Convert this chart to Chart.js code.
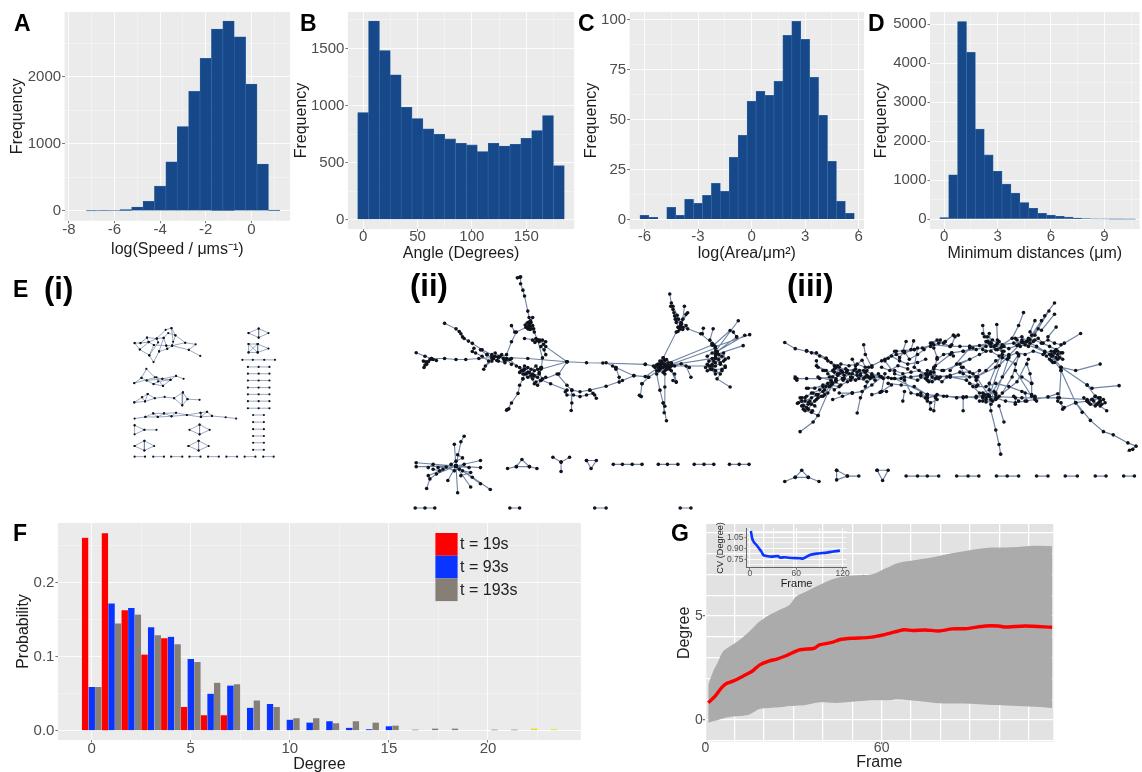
<!DOCTYPE html>
<html><head><meta charset="utf-8">
<script src="https://cdn.jsdelivr.net/npm/chart.js@4"></script>
<style>
html,body{margin:0;padding:0;background:#fff;width:1142px;height:772px;overflow:hidden}
#fig{position:relative;width:1142px;height:772px;overflow:hidden}
canvas{position:absolute;filter:blur(0.45px)}
.lab{position:absolute;font-family:"Liberation Sans",Arial,sans-serif;font-weight:700;color:#000;line-height:1;white-space:nowrap}
</style></head><body><div id="fig"></div>
<script>
// ---------- Panel A ----------
const speedBins=[-7,-6.5,-6,-5.5,-5,-4.5,-4,-3.5,-3,-2.5,-2,-1.5,-1,-0.5,0,0.5,1];
const speedCounts=[2,4,8,20,60,145,370,735,1260,1785,2280,2715,2835,2600,1895,700,15];
// ---------- Panel B ----------
const angleBins=[0,10,20,30,40,50,60,70,80,90,100,110,120,130,140,150,160,170,180];
const angleCounts=[939,1740,1482,1269,985,886,795,748,708,670,655,597,670,646,661,713,781,912,474];
// ---------- Panel C ----------
const areaBins=[-6,-5.5,-5,-4.5,-4,-3.5,-3,-2.5,-2,-1.5,-1,-0.5,0,0.5,1,1.5,2,2.5,3,3.5,4,4.5,5,5.5];
const areaCounts=[2,1,0,6,2,10,8,12,18,14,31,42,59,64,62,69,92,99,90,71,52,29,9,3];
// ---------- Panel D ----------
const distBins=[0,0.5,1,1.5,2,2.5,3,3.5,4,4.5,5,5.5,6,6.5,7,7.5,8,8.5,9,9.5,10,10.5];
const distCounts=[45,1140,5070,4280,2310,1650,1230,900,670,430,280,150,105,75,55,30,15,10,8,4,3,2];
// ---------- Panel F ----------
const degrees=[0,1,2,3,4,5,6,7,8,9,10,11,12,13,14,15,16,17,18,19,20,21,22,23];
const probT19=[0.261,0.267,0.163,0.103,0.125,0.032,0.021,0.021];
const probT93=[0.059,0.172,0.166,0.140,0.127,0.097,0.050,0.061,0.031,0.036,0.015,0.011,0.013,0.004,0.002,0.006];
const probT193=[0.059,0.145,0.157,0.129,0.117,0.093,0.065,0.063,0.041,0.032,0.017,0.017,0.010,0.013,0.011,0.007,0.0015,0.003,0.003,null,0.0015,0.0015,0.003,0.002];
const legendLabels=['t = 19s','t = 93s','t = 193s'];
// ---------- Panel G ----------
const bandFrames=[1,2.6,4.3,6,7.7,11.6,15,18.4,21.8,25.2,28.6,30.8,34.2,38.8,44.4,50,56.8,61.4,65.9,72.7,78.3,84,91.9,97.5,104.3,112.2,118];
const bandUpper=[1.68,2.32,2.80,3.29,3.48,3.85,4.25,4.73,5.05,5.29,5.53,5.93,6.17,6.49,6.81,6.94,7.0,7.29,7.56,7.72,7.85,8.01,8.21,8.29,8.30,8.37,8.35];
const bandLower=[-0.13,-0.06,0,0.08,0.14,0.19,0.27,0.53,0.58,0.61,0.67,0.69,0.72,0.85,0.82,0.88,0.95,0.95,0.99,0.91,0.82,0.79,0.77,0.72,0.69,0.64,0.58];
const meanFrames=[1,3.2,5.5,7.2,9.4,12.8,16.2,18.4,21.8,24.1,27.5,32,37.1,38.8,43.4,45.6,50,55.7,61.4,67.6,70.4,74.9,79.4,84,88.5,95.3,99.8,102,108.8,118];
const meanDegree=[0.83,1.12,1.55,1.76,1.87,2.11,2.37,2.64,2.84,2.92,3.09,3.37,3.45,3.61,3.74,3.86,3.93,3.97,4.12,4.34,4.30,4.33,4.28,4.38,4.39,4.52,4.52,4.47,4.52,4.46];
const cvFrames=[1.3,3,5.6,8.6,11.6,15,17.2,21.6,28,36.6,38.8,45.3,53.9,64.7,69,77.6,86.2,99,107.8,116.4];
const cvDegree=[1.136,1.036,0.977,0.945,0.9,0.855,0.809,0.795,0.786,0.795,0.773,0.777,0.768,0.764,0.759,0.809,0.827,0.841,0.855,0.868];
// ---------- Panel E: network layouts, each list is a chain of connected nodes x,y,x,y... ----------
const netI=[
[400,214,418,214,438,197,468,200,495,173,513,168,525,190,555,213,587,218,566,235,601,254],
[400,214,416,234,445,252,458,273,475,240,500,232,515,222,555,213],
[418,214,443,211,468,200,489,198,497,222,500,232],
[416,234,443,211,459,220,445,252],[438,197,443,211],
[459,220,497,222,515,222,525,190,503,183,489,198,475,240],[515,222,566,235],[513,168,518,210],[468,200,472,212,445,252],
[399,338,421,322,436,294,462,320,485,325,510,328,527,316,550,325],
[421,322,437,330,458,341,487,347,510,328],[399,338,467,320,487,347],[437,330,485,325,527,316],[458,341,472,333,510,328],
[399,398,423,382,440,372,462,385,492,381,521,385,548,367,562,388,599,390],
[399,398,432,395,440,372],[423,382,432,395,462,385],[521,385,546,407,562,388],[548,367,546,407],
[400,448,433,443,457,432,471,443,490,432,513,441,527,430,560,437,602,430,622,427,637,440,679,444,711,448],
[433,443,471,443,513,441,560,437,603,443,637,440],[457,432,490,432,527,430],[602,430,603,443,622,427],
[400,469,430,483,400,497,400,469],[430,483,467,483],
[599,467,568,483,599,497,630,483,599,467,599,497],
[400,533,430,517,460,533,430,547,400,533],[430,517,430,547],
[565,533,596,517,627,533,596,547,565,533],[596,517,596,547],
[400,566,432,566],[457,566,490,566],[512,566,546,566],[568,566,602,566],[625,566,658,566],[681,566,714,566],[737,566,770,566],[794,566,826,566],
[749,183,780,169,810,183,780,197,749,183],[780,169,780,197],
[749,217,777,217,777,243,749,243,749,217,777,243],[777,217,749,243],[777,217,810,231,777,243],
[730,266,762,266,797,266,830,266],
[747,288,780,288,813,288],[747,309,780,309,813,309],[747,330,780,330,813,330],[747,352,780,352,813,352],[747,373,780,373,813,373],[747,394,780,394,813,394],[747,416,780,416,813,416],
[763,437,796,437],[763,459,796,459],[763,481,796,481],[763,502,796,502],[763,523,796,523],[763,545,796,545]
];
const netII=[
[378,12,385,10,388,9,388,30,395,50,400,68,410,115,414,135,420,150,415,160],
[405,165,415,160,425,160],[410,170,415,160,420,170],[412,150,415,160,418,145],[425,135,415,160],[402,158,415,160,428,170],[408,152,416,172],
[415,160,430,180,440,205],[425,205,435,200,445,210,455,205,465,210,450,225,460,235,465,250],[432,212,447,205,458,218],
[155,153,190,170,205,185,215,200,240,215,270,235,300,250,320,258],[200,178,210,195,228,208],
[245,230,240,240,250,245,270,255,290,270,275,295],[280,285,300,270,310,255],[265,235,285,250,305,262],
[68,244,95,255,115,262,155,262,190,265,220,265,260,262,320,258],
[92,290,100,280,90,270,105,272,120,265,130,268],[95,282,115,262],[110,265,98,272],
[320,258,410,262,530,272,590,275,640,276,770,280],[300,255,320,258,345,250,360,210,375,180,405,165],[360,160,370,180],[400,200,440,205],
[320,258,335,262,355,265,375,285,400,295],[345,265,360,280],[385,290,395,300,410,290,420,295,430,300,440,295,450,290],
[400,295,405,310,420,315,430,340,440,345,450,330,465,320],[390,300,410,305,425,310,440,320],[395,325,385,345,380,370,360,400,348,420,345,422,352,418],[400,310,395,325],
[450,295,530,272],[440,205,455,260,452,290],[465,225,530,272],
[450,330,500,310,530,345,545,360,570,365,600,360,650,348,700,330,735,315],[530,272,505,310],[420,315,480,340,530,360],
[525,365,530,375,550,375,570,380,590,375,610,370,620,385],[545,360,545,400,543,423],[600,360,615,375],
[650,275,680,290,690,320,690,335],[670,285,680,295],[680,290,735,315,770,318,810,290],[770,280,820,290],
[800,290,810,280,820,270,840,275,850,285,830,300,815,295,830,285],[825,260,830,285,860,310,865,335,855,330],[805,282,825,278,845,290],[820,288,835,295,812,300],[830,268,838,288,818,280],
[780,320,810,300],[760,340,780,320],[760,340,755,378,752,376,758,380],
[805,310,815,360,825,400,835,455],[825,400,828,430],[830,310,830,350,830,410],[850,300,865,335],
[825,260,865,180,875,170],[845,62,850,90,855,110,860,130,865,150,875,170],[890,100,885,140,880,155,875,170],[895,125,870,165],[900,120,880,155],[855,100,868,128,878,160],[862,140,885,165,900,170,940,185,975,215],
[948,168,945,185],[978,170,968,205],
[975,220,990,245,1005,255,985,260,970,285,960,300,985,300,1000,310,990,325,1030,350],[1010,270,1025,260,985,260,965,270,980,270,985,260],[975,280,985,300],[1000,280,985,260,1015,290],[1005,295,975,295,960,280],
[985,240,1055,145],[980,220,1030,175],[985,225,1090,188],[985,250,1070,222],[990,240,1050,195],[990,240,1075,190],[1040,180,1050,195],
[830,285,985,260],[830,285,975,285],[850,280,985,230],[830,280,975,220],[895,285,910,320],
[285,250,300,262,315,268,330,250,345,262,360,262,340,275,320,270],[310,245,325,255,338,268],
[385,305,400,285,415,305,435,285,445,305,425,325,410,320,395,310],[430,315,445,310,455,325,435,335],
[795,285,815,270,835,265,850,275,845,295,825,305,805,300],[815,285,825,290,840,283,820,275],[860,285,880,278,905,290],
[960,255,975,245,995,250,1010,245,1015,265,1000,275,985,285,970,295,985,310,1005,300,1015,285],[965,285,985,275,995,265,975,262,955,290],
[865,140,880,150,895,160,885,172,870,178],[848,100,858,120,872,140],
[190,595,68,585],[190,595,68,597],[105,600,120,590,190,595],[190,595,150,605,110,635,100,665],[190,595,130,620],[190,595,165,640],[190,595,195,678],[190,595,235,660],[190,595,295,668],[190,595,265,650],[190,595,240,630],[190,595,265,600],[190,595,265,578],[190,595,230,600],[215,503,205,520,190,595],[185,528,190,595],[195,560,210,570,190,580,175,590,200,605,215,590,185,610,160,598,135,600],[120,605,140,610,105,625],[210,610,235,615,205,625],
[348,603,375,597,392,575,415,597,438,603],[375,597,415,597],
[487,568,512,583,538,568],[512,583,512,612],
[590,578,620,578,604,603,590,578],
[672,590,700,590,730,590,760,590],[810,590,838,590,870,590],[920,590,950,590,980,590],[1028,590,1058,590,1088,590],
[65,725,95,725,125,725],[355,725,385,725],[615,725,650,725],[877,725,910,725]
];
const netIII=[
[33,213,65,232,100,240,130,245,160,262,190,290,210,305],
[210,305,280,320,370,325,470,315,540,320,620,320,690,285,760,212],
[290,290,340,265,375,240,430,235,490,220,540,225,600,225,680,222,760,212,850,250],
[470,375,520,380,580,382,660,380,760,385,870,385,960,390],[370,325,470,375],
[80,490,120,460,135,440,165,370,190,330],
[75,400,85,385,90,410,105,420,115,405,130,390,150,380,170,350],
[65,325,100,325,140,325,180,320],[100,355,150,350,190,330],[130,285,160,300],
[255,432,265,385,280,350,300,320],[275,220,280,250,300,290],[405,210,395,240],[428,208,420,235],
[540,250,490,290,470,315],[600,230,540,300],
[860,90,830,130,800,190,775,210],[765,120,750,160,730,200,700,220],[843,115,810,170,780,205],[860,125,820,175],[800,145,785,180],[820,145,790,190],[865,165,840,195],[940,185,890,215,860,240],[640,160,645,195,680,222],[683,157,685,205],[660,185,665,215],
[850,250,880,290,925,300,1000,280],[880,290,960,345,975,355,1058,347],[850,255,880,300,875,385],[960,345,985,380,960,395],
[950,385,965,400,985,380,1000,395,1010,390,1015,400,1000,410,1020,425],[975,390,990,405,1000,395],[960,395,975,390,1000,385],
[925,400,970,455,1010,490,1040,500,1085,525,1110,535,1090,548,1100,545],[880,300,925,400,960,395],[870,395,890,415,925,400,945,430],
[660,380,665,425,680,485,690,530,695,560],[690,410,705,460],[660,380,620,320,580,290],[660,380,700,260],[660,380,750,250],[740,300,790,380],[790,340,760,320],
[470,375,480,420],[495,385,490,425],[580,385,580,425],[395,395,400,365],[330,365,340,310],[740,385,740,405],[800,385,805,395],[880,400,885,420],
[180,300,200,290,225,300,250,295,275,300,300,310,325,318,350,322],[170,320,195,310,215,315,240,310,265,315,290,320,310,330],[190,335,210,325,235,330,260,325,285,335],[205,280,230,285,255,280,280,290],[240,265,250,285,270,268,285,300],[150,300,185,305,220,295,255,305],[135,320,175,330,205,345,225,335],
[80,385,100,380,120,370,140,360,160,350,180,340],[72,402,95,395,115,385,135,375,155,360],[85,410,105,405,125,395,145,380],[95,425,115,430,135,440],[105,355,125,355,150,345,175,335],[70,325,65,320,70,330],[130,270,135,290,155,300],[100,238,115,245,140,255,165,270,185,285],[160,262,175,275,195,285],
[300,285,330,270,350,262,375,250,400,245,430,235,455,230,480,225,505,215,525,210],[370,240,385,260,400,240,415,265,440,250,460,235,485,215,510,205],[525,210,550,190,565,190],[545,220,555,195],[490,230,500,260,495,285,480,305],[480,215,500,205,520,215,540,225,570,225,600,225,630,222,660,215],[550,255,545,245],[500,265,520,250,545,245,580,240,610,230],[440,230,430,290,470,320],[340,270,370,310,400,320,440,330,470,315],
[300,315,330,320,360,325,390,325,420,320,450,315,480,310,510,320,540,315,570,305,600,305,625,320],[470,300,490,305,500,320,470,330,450,320],[465,325,485,335,505,325],[540,320,590,330,610,350,630,370],[600,340,625,345,610,310,630,300,620,330],[575,290,580,310,600,320],[350,340,390,345,430,350,470,375],[400,330,420,370,440,375,470,385,495,380],[450,378,470,395],[465,385,480,400,500,390],[330,365,345,365],[300,375,325,368,360,345],[240,370,270,365,300,345,330,320],[200,370,240,370],[180,390,210,380,240,370],
[640,185,655,195,670,205,685,215,700,225,720,232,745,222,765,212,785,215,805,225,830,240,855,255],[650,210,665,225,685,235,705,240],[740,200,760,195,775,210,755,225,735,215],[780,200,800,205,820,215,840,205,860,215,880,220],[810,200,825,215,845,225,865,235,880,245],[830,245,850,240,865,260,850,270,835,255],[870,250,885,245],[855,275,870,265],[700,250,720,255,745,245,770,250,795,240,825,250],[640,235,665,240,690,255,715,265,740,280],[580,240,620,235,650,225],[700,240,680,290,660,340,660,380],[720,260,700,320,680,370],[750,255,730,320,700,370],[780,265,745,335,690,380],[775,280,785,310,790,340,790,375],[560,280,600,265,650,240,700,225],[520,300,570,280,630,250],[620,320,650,300,680,270,720,250],[620,350,650,350,680,340,720,350,760,365,800,380],
[450,370,470,385,500,375,530,380,560,385,590,382,620,385,640,380],[680,385,710,395,740,400,770,395,800,390,840,382,870,372],[735,380,750,395],[770,370,775,395],
[640,370,660,360,680,375,670,395,650,398,640,385,660,380,680,390,665,405],[620,380,645,375],[630,395,650,390],
[185,295,205,300,195,315,215,325,230,310,245,300,235,320,250,330,265,310,280,305,295,325,275,325,255,315],[200,310,222,305,212,330,240,322,262,300,285,315,305,320,320,310,335,325],[165,310,190,325,175,345,200,350,185,360,165,340,150,365,130,375],[110,395,125,410,105,400,95,385,115,370,135,385,155,375],[85,395,100,415,118,425,90,420],[370,300,395,310,420,305,445,300,465,310,490,295,515,300],[360,255,385,270,410,280,440,275,465,265],[330,290,355,300,380,285,410,295],[470,310,485,320,475,335,495,325,515,335,530,320],[655,210,675,225,690,210,705,225,680,235,665,215,695,230],[745,205,770,220,785,205,760,205,750,220,780,225,795,210],[845,250,860,245,875,260,860,275,845,265,870,240,885,265],[655,375,665,390,675,365,650,385,685,385,640,395],[980,395,995,385,1005,405,985,410,970,405,995,400],
[33,645,65,632,85,610,105,632,138,645],[65,632,105,632],[192,610,225,628,192,640,192,610],[225,628,260,628],[316,610,350,610,333,642,316,610],
[405,628,440,628,470,628,505,628],[560,628,595,628,628,628],[682,628,715,628,750,628],[805,628,840,628],[893,628,930,628],[985,628,1018,628],[1072,628,1105,628]
];

const FONT='"Liberation Sans",Arial,sans-serif';
const fig=document.getElementById('fig');
function addCanvas(l,t,w,h){const c=document.createElement('canvas');c.width=w;c.height=h;c.style.left=l+'px';c.style.top=t+'px';c.style.width=w+'px';c.style.height=h+'px';fig.appendChild(c);return c;}
Chart.defaults.animation=false;
Chart.defaults.responsive=false;
Chart.defaults.plugins.legend.display=false;
Chart.defaults.plugins.tooltip.enabled=false;
Chart.defaults.font.family=FONT;
const plotBg={id:'plotBg',beforeDraw(c,a,o){if(!o.color)return;const r=c.chartArea;c.ctx.save();c.ctx.fillStyle=o.color;c.ctx.fillRect(r.left,r.top,r.right-r.left,r.bottom-r.top);c.ctx.restore();}};
const swatchLegend={id:'swatchLegend',afterDraw(c,a,o){if(!o.x)return;const x=c.ctx;x.save();c.data.datasets.forEach((d,i)=>{const y=o.y+i*o.h;x.fillStyle=d.swatch;x.fillRect(o.x,y,o.w,o.h);x.fillStyle='#222';x.font='16px '+FONT;x.textBaseline='middle';x.fillText(d.label,o.x+o.w+2.5,y+o.h/2+0.5);});x.restore();}};
Chart.register(plotBg,swatchLegend);

const isMajor=(v,m)=>Math.abs(v/m-Math.round(v/m))<1e-6;
function axis(o){
 const horiz=o.horizontal;
 const shown=v=>isMajor(v,o.major)&&(!o.showLabel||o.showLabel(v));
 return {type:'linear',min:o.min,max:o.max,offset:false,reverse:false,
  border:o.border?{display:true,color:o.border,width:1}:{display:false},
  title:{display:true,text:o.title,color:o.titleColor||'#1c1c1c',padding:0,font:{size:o.titleSize||16,family:FONT}},
  afterBuildTicks(s){const out=[];for(let k=Math.ceil(o.min/o.step-1e-9);k*o.step<=o.max+1e-9;k++)out.push({value:Math.round(k*o.step*1e6)/1e6});s.ticks=out;},
  ticks:{autoSkip:false,maxRotation:0,minRotation:0,padding:o.pad,color:o.tickColor||'#4d4d4d',font:{size:o.tickSize||15,family:FONT,lineHeight:1},
   callback:v=>{if(!shown(v))return '';return o.fmt?o.fmt(v):String(Math.round(v*1000)/1000);}},
  grid:{offset:false,drawTicks:true,tickLength:o.tl===undefined?2.5:o.tl,
   color:c=>isMajor(c.tick.value,o.major)?(o.majorC||'rgba(255,255,255,.85)'):(o.minorC||'rgba(255,255,255,.38)'),
   lineWidth:o.lw||1,
   tickColor:c=>shown(c.tick.value)?'#777':'rgba(0,0,0,0)'},
  afterFit(s){if(horiz){s.height=o.fixed;s.paddingLeft=0;s.paddingRight=0;}else{s.width=o.fixed;s.paddingTop=0;s.paddingBottom=0;}}
 };
}
function frame(p){
 const lhY=(p.yTitleSize||16)*1.2, lhX=(p.xTitleSize||16)*1.2;
 const yw=p.l-p.tx+lhY/2, xh=p.ty-p.b+lhX/2, padT=12,padR=24;
 const left=Math.round((p.l-yw)*100)/100;
 const wi=Math.ceil(yw+(p.r-p.l)+padR), he=Math.ceil(padT+(p.b-p.t)+xh);
 const cv=addCanvas(left,p.t-padT,wi,he);
 return {cv,yw,xh,padding:{left:0,top:padT,right:wi-yw-(p.r-p.l),bottom:he-padT-(p.b-p.t)-xh}};
}
function hist(p){
 const f=frame(p);
 new Chart(f.cv,{type:'bar',data:{datasets:[{data:p.bins.map((b,i)=>({x:b,y:p.counts[i]})),backgroundColor:'#17498a',borderColor:'#2f6aa6',borderWidth:0.6,barPercentage:1,categoryPercentage:1}]},
  options:{layout:{padding:f.padding},plugins:{plotBg:{color:'#ebebeb'}},scales:{
   x:axis({horizontal:true,min:p.xmin,max:p.xmax,step:p.xstep/2,major:p.xstep,title:p.xtitle,fixed:f.xh,pad:p.xpad}),
   y:axis({min:p.ymin,max:p.ymax,step:p.ystep/2,major:p.ystep,title:'Frequency',fixed:f.yw,pad:1})
  }}});
}
hist({l:64.5,t:12,r:290,b:220.7,tx:17.5,ty:250,bins:speedBins,counts:speedCounts,xmin:-8.19,xmax:1.70,xstep:2,ymin:-145,ymax:2970,ystep:1000,xtitle:'log(Speed / μms⁻¹)',xpad:-1});
hist({l:347.8,t:12,r:574,b:229,tx:301.5,ty:254,bins:angleBins,counts:angleCounts,xmin:-14,xmax:194,xstep:50,ymin:-81,ymax:1819,ystep:500,xtitle:'Angle (Degrees)',xpad:-2});
hist({l:630,t:12,r:864.5,b:229,tx:592,ty:254,bins:areaBins,counts:areaCounts,xmin:-6.83,xmax:6.3,xstep:3,ymin:-4.8,ymax:103.7,ystep:25,xtitle:'log(Area/μm²)',xpad:-2});
hist({l:930.4,t:12,r:1140,b:229,tx:882,ty:254,bins:distBins,counts:distCounts,xmin:-0.8,xmax:10.98,xstep:3,ymin:-250,ymax:5315,ystep:1000,xtitle:'Minimum distances (μm)',xpad:-2});

function chainPoints(list){const out=[];list.forEach(ch=>{for(let i=0;i<ch.length;i+=2)out.push({x:ch[i],y:ch[i+1]});out.push({x:null,y:null});});return out;}
function network(chains,l,t,w,h,unit,r,lw){
 const cv=addCanvas(l,t,w,h);
 new Chart(cv,{type:'scatter',data:{datasets:[{data:chainPoints(chains),showLine:true,spanGaps:false,borderColor:'#6f84a6',borderWidth:lw,pointRadius:r,pointBackgroundColor:'#10131a',pointBorderWidth:0,tension:0}]},
  options:{layout:{padding:0},scales:{x:{display:false,type:'linear',min:0,max:w*unit},y:{display:false,type:'linear',reverse:true,min:0,max:h*unit}}}});
}
network(netI,0,270,390,250,3,1.1,0.7);
network(netII,390,270,380,250,3,1.8,1.1);
network(netIII,770,270,372,230,3,1.8,1.2);

// Panel F
(function(){
 const p={l:58,t:523,r:581,b:740,tx:23.7,ty:765};
 const f=frame(p);
 const mk=(vals,label,color)=>({label,swatch:color,data:vals.map((v,i)=>({x:degrees[i],y:v})),backgroundColor:c=>(c.raw&&c.raw.x>=22)?'#e6dc10':color,borderColor:'rgba(255,255,255,.25)',borderWidth:0.4,barPercentage:1,categoryPercentage:1});
 new Chart(f.cv,{type:'bar',data:{datasets:[mk(probT19,legendLabels[0],'#ff0000'),mk(probT93,legendLabels[1],'#0a34ff'),mk(probT193,legendLabels[2],'#857f76')]},
  options:{layout:{padding:f.padding},plugins:{plotBg:{color:'#ebebeb'},swatchLegend:{x:435.5-(p.l-f.yw),y:533-(p.t-12),w:22.2,h:22.7}},scales:{
   x:axis({horizontal:true,min:-1.706,max:24.69,step:2.5,major:5,title:'Degree',fixed:f.xh,pad:-1}),
   y:axis({min:-0.0126,max:0.2807,step:0.05,major:0.1,title:'Probability',fixed:f.yw,pad:1,fmt:v=>v.toFixed(1)})
  }}});
})();

// Panel G
(function(){
 const p={l:705.7,t:524,r:1053.7,b:741.7,tx:685,ty:763};
 const f=frame(p);
 new Chart(f.cv,{type:'line',data:{datasets:[
   {data:meanFrames.map((x,i)=>({x,y:meanDegree[i]})),borderColor:'#ff0000',borderWidth:3.4,pointRadius:0,fill:false,tension:0.25},
   {data:bandFrames.map((x,i)=>({x,y:bandUpper[i]})),borderWidth:0,borderColor:'#ababab',pointRadius:0,fill:'+1',backgroundColor:'#ababab',tension:0.3},
   {data:bandFrames.map((x,i)=>({x,y:bandLower[i]})),borderWidth:0,borderColor:'#ababab',pointRadius:0,fill:false,tension:0.3}
  ]},
  options:{layout:{padding:f.padding},plugins:{plotBg:{color:'#e2e2e2'}},scales:{
   x:axis({horizontal:true,min:0,max:118.4,step:10,major:10,title:'Frame',fixed:f.xh,pad:-3,tickSize:14,lw:1.3,majorC:'#fff',showLabel:v=>v===0||v===60}),
   y:axis({min:-1.04,max:9.42,step:1,major:1,title:'Degree',fixed:f.yw,pad:0,tickSize:14,lw:1.3,majorC:'#fff',showLabel:v=>v===0||v===5})
  }}});
 const q={l:746.7,t:528,r:846.7,b:567.7,tx:720.7,ty:584,yTitleSize:9.2,xTitleSize:11};
 const g=frame(q);
 new Chart(g.cv,{type:'line',data:{datasets:[{data:cvFrames.map((x,i)=>({x,y:cvDegree[i]})),borderColor:'#0a34ff',borderWidth:2.6,pointRadius:0,fill:false,tension:0.1}]},
  options:{layout:{padding:g.padding},scales:{
   x:axis({horizontal:true,min:-4.3,max:125,step:30,major:60,title:'Frame',titleSize:11,fixed:g.xh,pad:0,tickSize:8.5,tl:2,border:'#666',majorC:'rgba(255,255,255,.9)',minorC:'rgba(255,255,255,.7)'}),
   y:axis({min:0.635,max:1.177,step:0.075,major:0.15,title:'CV (Degree)',titleSize:9.2,fixed:g.yw,pad:1,tickSize:8.5,tl:2,border:'#666',majorC:'rgba(255,255,255,.9)',minorC:'rgba(255,255,255,.7)',fmt:v=>v.toFixed(2)})
  }}});
})();

[['A',14,12,23],['B',300,12,23],['C',578,12,23],['D',868,12,23],['E',13,278,23],['(i)',44,273,31],['(ii)',410,270,31],['(iii)',787,270,31],['F',13,522,23],['G',671,522,23]]
.forEach(([t,x,y,s])=>{const d=document.createElement('div');d.className='lab';d.textContent=t;d.style.left=x+'px';d.style.top=y+'px';d.style.fontSize=s+'px';fig.appendChild(d);});
</script></body></html>
